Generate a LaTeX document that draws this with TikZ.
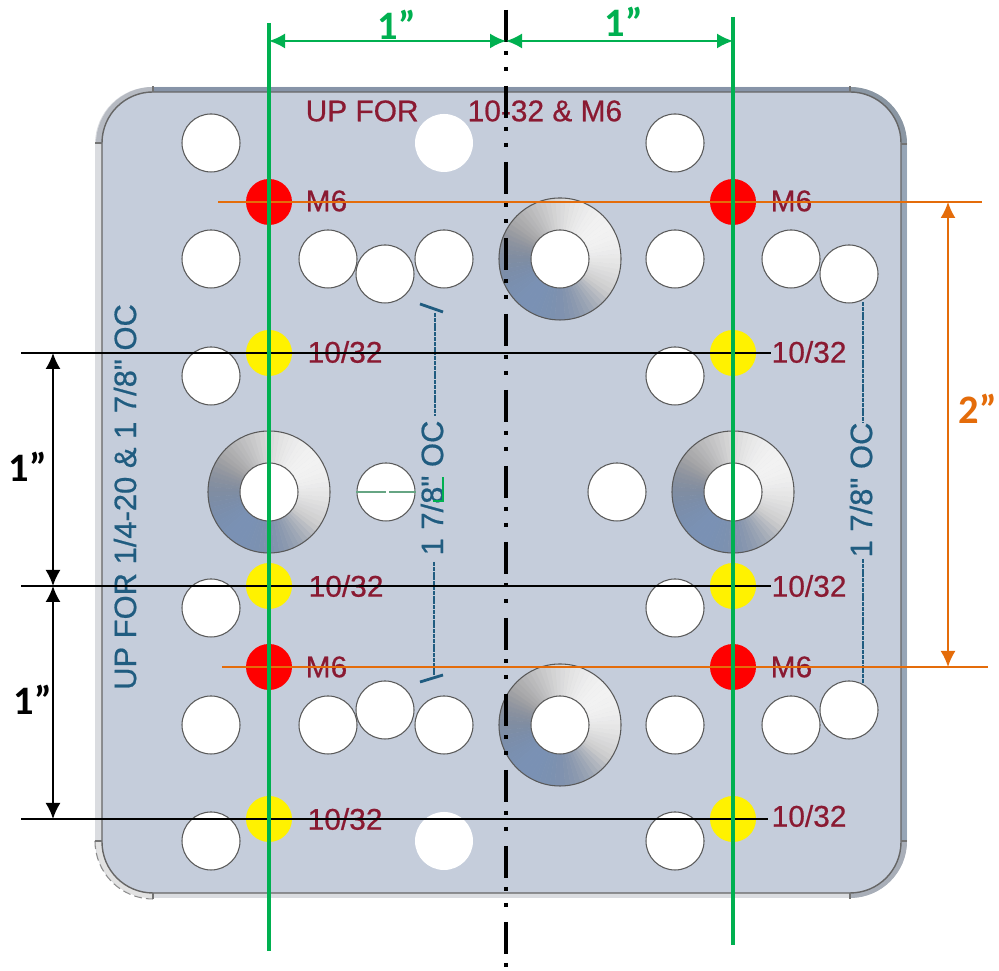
\documentclass[tikz,border=0pt]{standalone}
\usepackage{fontspec}
\setmainfont{Liberation Sans}
\newfontfamily\platefont{Liberation Sans}[FakeBold=0.6]
\newfontfamily\dimfont{Carlito}
\usetikzlibrary{arrows.meta}
\definecolor{platecol}{RGB}{197,205,219}
\definecolor{rimcol}{RGB}{218,220,224}
\definecolor{topcol}{RGB}{135,148,168}
\definecolor{sidecol}{RGB}{150,165,182}
\definecolor{conecol}{RGB}{122,145,180}
\definecolor{conegray}{RGB}{125,125,128}
\definecolor{conelight}{RGB}{242,242,242}
\definecolor{dimgreen}{RGB}{0,176,80}
\definecolor{dimorange}{RGB}{228,108,10}
\definecolor{txtred}{RGB}{138,26,50}
\definecolor{txtblue}{RGB}{32,92,128}
\newcommand{\conefan}[1]{%
  \foreach \a in {0,5,...,355}{
    \pgfmathsetmacro{\p}{50+50*cos(\a+2.5-35)}
    \pgfmathsetmacro{\q}{100-100*max(0,cos(\a+2.5-235))}
    \fill[conelight!\p!conegray!\q!conecol,draw=conelight!\p!conegray!\q!conecol,line width=0.1pt] (#1) -- +(\a:0.61) arc (\a:\a+5:0.61) -- cycle;
  }}

\begin{document}
\begin{tikzpicture}
\tikzstyle{hole}=[circle,draw=black!65,line width=0.3pt,fill=white,minimum size=0.58cm,inner sep=0pt]
\tikzstyle{softhole}=[circle,fill=white,minimum size=0.58cm,inner sep=0pt]
\tikzstyle{cone}=[circle,draw=black!65,line width=0.3pt,minimum size=1.22cm,inner sep=0pt]
\tikzstyle{redspot}=[circle,fill=red,minimum size=0.46cm,inner sep=0pt]
\tikzstyle{yellowspot}=[circle,fill=yellow,minimum size=0.46cm,inner sep=0pt]
\tikzstyle{redlabel}=[anchor=west,inner sep=0pt,text=txtred,font=\platefont\fontsize{8.5}{10}\selectfont]
\tikzstyle{bluelabel}=[rotate=90,inner sep=0pt,text=txtblue,font=\platefont\fontsize{8.8}{10}\selectfont]
\tikzstyle{dimlabel}=[inner sep=0pt,font=\dimfont\bfseries\fontsize{11.5}{13}\selectfont]
\tikzstyle{oc}=[txtblue,line width=0.75pt,dash pattern=on 0.04cm off 0.008cm]
\tikzstyle{tick}=[txtblue,line width=0.8pt]
\tikzstyle{greenline}=[dimgreen,line width=1.05pt]
\tikzstyle{blackline}=[black,line width=0.8pt]
\tikzstyle{orangeline}=[dimorange,line width=0.7pt]
\tikzstyle{dimarrow}=[{Latex[length=0.16cm,width=0.15cm]}-{Latex[length=0.16cm,width=0.15cm]},line width=0.55pt]
\tikzstyle{rimarc}=[line width=0.06cm]
\tikzstyle{rimtick}=[black!55,line width=0.4pt]
\useasboundingbox (0,0) rectangle (9.99,9.71);
%%%%%%%%%%%%%%%%%%%%%%%%%%%%%%%%%%%%%%%%%%%%%%%%%%%%%%%%%%%%%%%%%%%%%%%%%%%%%%%%%%%%%%%%
%% Draw plate
%%%%%%%%%%%%%%%%%%%%%%%%%%%%%%%%%%%%%%%%%%%%%%%%%%%%%%%%%%%%%%%%%%%%%%%%%%%%%%%%%%%%%%%%
\fill[rimcol,rounded corners=0.57cm] (0.95,0.73) rectangle (9.07,8.84);
\draw[rimarc,color={rgb,255:red,182;green,186;blue,194}] (0.99,8.27) arc (180:90:0.54);
\draw[rimarc,color={rgb,255:red,138;green,150;blue,163}] (8.50,8.81) arc (90:0:0.54);
\draw[rimarc,color={rgb,255:red,168;green,174;blue,184}] (9.04,1.30) arc (0:-90:0.54);
\draw[rimarc,color={rgb,255:red,226;green,226;blue,226}] (1.53,0.76) arc (270:180:0.54);
\draw[black!45,line width=0.3pt,dash pattern=on 0.08cm off 0.04cm] (0.95,1.30) arc (180:270:0.58);
\fill[platecol,rounded corners=0.51cm] (1.02,0.78) rectangle (9.01,8.79);
\fill[topcol] (1.53,8.79) rectangle (8.50,8.84);
\fill[sidecol] (9.01,1.30) rectangle (9.07,8.27);
\draw[black!60,line width=0.4pt,rounded corners=0.51cm] (1.02,0.78) rectangle (9.01,8.79);
\draw[rimtick] (0.95,8.28) -- (1.02,8.28);
\draw[rimtick] (1.53,8.79) -- (1.53,8.85);
\draw[rimtick] (8.50,8.79) -- (8.50,8.85);
\draw[rimtick] (9.01,8.27) -- (9.07,8.27);
\draw[rimtick] (9.01,1.30) -- (9.07,1.30);
\draw[rimtick] (8.50,0.72) -- (8.50,0.78);
\draw[rimtick] (1.53,0.72) -- (1.53,0.78);
\draw[rimtick] (0.95,1.30) -- (1.02,1.30);
%%%%%%%%%%%%%%%%%%%%%%%%%%%%%%%%%%%%%%%%%%%%%%%%%%%%%%%%%%%%%%%%%%%%%%%%%%%%%%%%%%%%%%%%
%% Draw countersinks
%%%%%%%%%%%%%%%%%%%%%%%%%%%%%%%%%%%%%%%%%%%%%%%%%%%%%%%%%%%%%%%%%%%%%%%%%%%%%%%%%%%%%%%%
\conefan{5.60,7.12}
\conefan{2.69,4.79}
\conefan{7.33,4.79}
\conefan{5.60,2.46}
\node[cone] (cone1) at (5.60,7.12) {};
\node[cone] (cone2) at (2.69,4.79) {};
\node[cone] (cone3) at (7.33,4.79) {};
\node[cone] (cone4) at (5.60,2.46) {};
\node[hole] (c1) at (cone1) {};
\node[hole] (c2) at (cone2) {};
\node[hole] (c3) at (cone3) {};
\node[hole] (c4) at (cone4) {};
%%%%%%%%%%%%%%%%%%%%%%%%%%%%%%%%%%%%%%%%%%%%%%%%%%%%%%%%%%%%%%%%%%%%%%%%%%%%%%%%%%%%%%%%
%% Draw holes
%%%%%%%%%%%%%%%%%%%%%%%%%%%%%%%%%%%%%%%%%%%%%%%%%%%%%%%%%%%%%%%%%%%%%%%%%%%%%%%%%%%%%%%%
% top row
\node[hole] (h1) at (2.11,8.28) {};
\node[softhole] (h2) at (4.44,8.28) {};
\node[hole] (h3) at (6.75,8.28) {};
% upper row
\node[hole] (h4) at (2.11,7.12) {};
\node[hole] (h5) at (3.28,7.12) {};
\node[hole] (h6) at (3.85,6.97) {};
\node[hole] (h7) at (4.44,7.12) {};
\node[hole] (h8) at (6.75,7.12) {};
\node[hole] (h9) at (7.91,7.12) {};
\node[hole] (h10) at (8.49,6.97) {};
% middle rows
\node[hole] (h11) at (2.11,5.95) {};
\node[hole] (h12) at (6.75,5.95) {};
\node[hole] (h13) at (3.86,4.79) {};
\node[hole] (h14) at (6.17,4.79) {};
\node[hole] (h15) at (2.11,3.63) {};
\node[hole] (h16) at (6.75,3.63) {};
% lower row
\node[hole] (h17) at (2.11,2.46) {};
\node[hole] (h18) at (3.28,2.46) {};
\node[hole] (h19) at (3.85,2.61) {};
\node[hole] (h20) at (4.44,2.46) {};
\node[hole] (h21) at (6.75,2.46) {};
\node[hole] (h22) at (7.91,2.46) {};
\node[hole] (h23) at (8.49,2.61) {};
% bottom row
\node[hole] (h24) at (2.11,1.30) {};
\node[softhole] (h25) at (4.44,1.30) {};
\node[hole] (h26) at (6.75,1.30) {};
% thread spots
\node[redspot] (m1) at (2.69,7.69) {};
\node[redspot] (m2) at (7.33,7.69) {};
\node[redspot] (m3) at (2.69,3.04) {};
\node[redspot] (m4) at (7.33,3.04) {};
\node[yellowspot] (y1) at (2.69,6.18) {};
\node[yellowspot] (y2) at (7.33,6.18) {};
\node[yellowspot] (y3) at (2.69,3.85) {};
\node[yellowspot] (y4) at (7.33,3.85) {};
\node[yellowspot] (y5) at (2.69,1.52) {};
\node[yellowspot] (y6) at (7.33,1.52) {};
%%%%%%%%%%%%%%%%%%%%%%%%%%%%%%%%%%%%%%%%%%%%%%%%%%%%%%%%%%%%%%%%%%%%%%%%%%%%%%%%%%%%%%%%
%% Draw labels
%%%%%%%%%%%%%%%%%%%%%%%%%%%%%%%%%%%%%%%%%%%%%%%%%%%%%%%%%%%%%%%%%%%%%%%%%%%%%%%%%%%%%%%%
\node[redlabel] (up1) at (3.05,8.60) {UP FOR};
\node[redlabel] (up2) at (4.67,8.60) {10-32 \& M6};
\node[redlabel] (t1) at (3.05,7.70) {M6};
\node[redlabel] (t2) at (7.70,7.70) {M6};
\node[redlabel] (t3) at (3.07,6.19) {10/32};
\node[redlabel] (t4) at (7.71,6.19) {10/32};
\node[redlabel] (t5) at (3.08,3.85) {10/32};
\node[redlabel] (t6) at (7.71,3.85) {10/32};
\node[redlabel] (t7) at (3.05,3.04) {M6};
\node[redlabel] (t8) at (7.70,3.04) {M6};
\node[redlabel] (t9) at (3.07,1.52) {10/32};
\node[redlabel] (t10) at (7.71,1.55) {10/32};
\node[bluelabel] (oc1) at (1.25,4.74) {UP FOR 1/4-20 \& 1 7/8" OC};
\node[bluelabel] (oc2) at (4.32,4.83) {1 7/8" OC};
\node[bluelabel] (oc3) at (8.61,4.81) {1 7/8" OC};
%%%%%%%%%%%%%%%%%%%%%%%%%%%%%%%%%%%%%%%%%%%%%%%%%%%%%%%%%%%%%%%%%%%%%%%%%%%%%%%%%%%%%%%%
%% Draw blue leaders
%%%%%%%%%%%%%%%%%%%%%%%%%%%%%%%%%%%%%%%%%%%%%%%%%%%%%%%%%%%%%%%%%%%%%%%%%%%%%%%%%%%%%%%%
\coordinate (l1) at (4.35,6.58);
\coordinate (l2) at (4.35,5.55);
\coordinate (l3) at (4.34,4.09);
\coordinate (l4) at (4.34,2.96);
\draw[oc] (l1) -- (l2);
\draw[oc] (l3) -- (l4);
\draw[tick] (4.20,6.67) -- (4.43,6.59);
\draw[tick] (4.20,2.89) -- (4.43,2.96);
\coordinate (r1) at (8.63,6.69);
\coordinate (r2) at (8.63,5.48);
\coordinate (r3) at (8.63,4.12);
\coordinate (r4) at (8.63,2.88);
\draw[oc] (r1) -- (r2);
\draw[oc] (r3) -- (r4);
% stray green marks
\draw[dimgreen!60!black!60,line width=0.3pt,dash pattern=on 0.3cm off 0.03cm on 0.3cm] (h13.west) -- (h13.east);
\draw[dimgreen,line width=0.3pt] (4.33,4.70) -- (4.43,4.70) -- (4.43,4.94);
%%%%%%%%%%%%%%%%%%%%%%%%%%%%%%%%%%%%%%%%%%%%%%%%%%%%%%%%%%%%%%%%%%%%%%%%%%%%%%%%%%%%%%%%
%% Draw dimension lines
%%%%%%%%%%%%%%%%%%%%%%%%%%%%%%%%%%%%%%%%%%%%%%%%%%%%%%%%%%%%%%%%%%%%%%%%%%%%%%%%%%%%%%%%
% centre line
\coordinate (ca) at (5.06,9.61);
\coordinate (cb) at (5.06,0.03);
\draw[black,line width=1.1pt,dash pattern=on 0.32cm off 0.09cm on 0.04cm off 0.12cm on 0.04cm off 0.15cm] (ca) -- (cb);
% horizontal
\coordinate (k1a) at (0.21,6.18);
\coordinate (k1b) at (7.71,6.18);
\coordinate (k2a) at (0.21,3.85);
\coordinate (k2b) at (7.71,3.85);
\coordinate (k3a) at (0.21,1.52);
\coordinate (k3b) at (7.68,1.52);
\draw[blackline] (k1a) -- (k1b);
\draw[blackline] (k2a) -- (k2b);
\draw[blackline] (k3a) -- (k3b);
\coordinate (o1a) at (2.18,7.69);
\coordinate (o1b) at (9.82,7.69);
\coordinate (o2a) at (2.22,3.04);
\coordinate (o2b) at (9.88,3.04);
\draw[orangeline] (o1a) -- (o1b);
\draw[orangeline] (o2a) -- (o2b);
% vertical
\coordinate (g1a) at (2.69,9.48);
\coordinate (g1b) at (2.69,0.20);
\coordinate (g2a) at (7.33,9.54);
\coordinate (g2b) at (7.33,0.26);
\draw[greenline] (g1a) -- (g1b);
\draw[greenline] (g2a) -- (g2b);
% arrows
\coordinate (d1) at (2.69,9.30);
\coordinate (d2) at (5.06,9.30);
\coordinate (d3) at (7.33,9.30);
\draw[dimarrow,dimgreen] (d1) -- (d2);
\draw[dimarrow,dimgreen] (d2) -- (d3);
\coordinate (b1) at (0.53,6.18);
\coordinate (b2) at (0.53,3.85);
\coordinate (b3) at (0.53,1.52);
\draw[dimarrow,black] (b1) -- (b2);
\draw[dimarrow,black] (b2) -- (b3);
\coordinate (e1) at (9.48,7.69);
\coordinate (e2) at (9.48,3.04);
\draw[dimarrow,dimorange] (e1) -- (e2);
\node[dimlabel,text=dimgreen] (w1) at (3.97,9.46) {1”};
\node[dimlabel,text=dimgreen] (w2) at (6.24,9.49) {1”};
\node[dimlabel,text=dimorange] (w3) at (9.78,5.62) {2”};
\node[dimlabel,text=black] (w4) at (0.28,5.04) {1”};
\node[dimlabel,text=black] (w5) at (0.33,2.71) {1”};
\end{tikzpicture}
\end{document}
